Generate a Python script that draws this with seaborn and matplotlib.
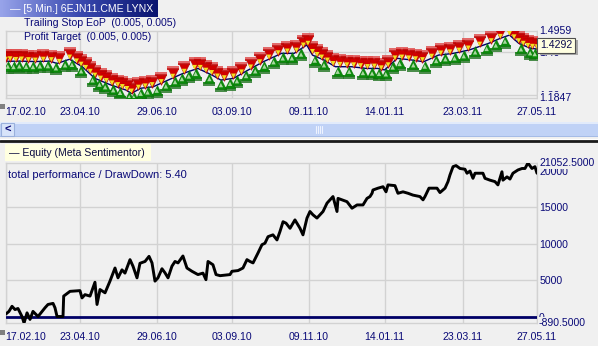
import numpy as np
import pandas as pd
import seaborn as sns
import matplotlib
matplotlib.use("Agg")
import matplotlib.pyplot as plt
from matplotlib.transforms import offset_copy, blended_transform_factory
from matplotlib.patches import Rectangle
from matplotlib.colors import LinearSegmentedColormap

# ---------------- data ----------------
start_date = "2010-02-17"
end_date = "2011-05-27"
tick_dates = ["2010-02-17", "2010-04-23", "2010-06-29", "2010-09-03",
              "2010-11-09", "2011-01-14", "2011-03-23", "2011-05-27"]
tick_labels = ["17.02.10", "23.04.10", "29.06.10", "03.09.10",
               "09.11.10", "14.01.11", "23.03.11", "27.05.11"]

# price path (days since start, price)
price_days = [0, 12.7, 25.8, 38.8, 45, 56, 67, 78, 92, 105, 110, 118, 129, 142,
              155, 168, 180, 188, 199, 212, 225, 241, 252, 263, 268, 278, 288,
              302, 315, 325, 331, 342, 355, 365, 378, 391, 405, 422, 432, 440,
              448, 458, 464]
price_vals = [1.355, 1.356, 1.354, 1.356, 1.345, 1.365, 1.330, 1.276, 1.245,
              1.222, 1.206, 1.230, 1.237, 1.268, 1.299, 1.322, 1.292, 1.268,
              1.276, 1.315, 1.353, 1.392, 1.392, 1.431, 1.384, 1.361, 1.330,
              1.330, 1.322, 1.322, 1.315, 1.369, 1.361, 1.353, 1.384, 1.392,
              1.408, 1.439, 1.462, 1.477, 1.439, 1.416, 1.412]

sell_days = [0, 4, 9, 14, 20, 26, 33, 40, 47, 56, 62, 66, 70, 74, 78, 83, 88, 93,
             98, 102, 106, 110, 116, 122, 128, 136, 146, 156, 165, 170, 175, 180,
             185, 191, 199, 206, 214, 222, 230, 238, 246, 254, 260, 264, 268, 272,
             276, 281, 286, 292, 298, 304, 310, 316, 322, 328, 334, 340, 346, 352,
             358, 364, 372, 380, 388, 396, 404, 414, 424, 432, 440, 444, 448, 452,
             456, 460, 464]
sell_prices = [1.356, 1.358, 1.355, 1.357, 1.354, 1.352, 1.356, 1.354, 1.346,
               1.366, 1.348, 1.333, 1.318, 1.300, 1.282, 1.268, 1.257, 1.246,
               1.238, 1.229, 1.220, 1.208, 1.226, 1.232, 1.238, 1.252, 1.277,
               1.300, 1.318, 1.318, 1.305, 1.294, 1.278, 1.270, 1.278, 1.297,
               1.320, 1.344, 1.366, 1.386, 1.394, 1.398, 1.422, 1.430, 1.392,
               1.378, 1.366, 1.352, 1.336, 1.332, 1.330, 1.330, 1.326, 1.322,
               1.324, 1.316, 1.330, 1.362, 1.366, 1.362, 1.358, 1.354, 1.370,
               1.385, 1.390, 1.398, 1.408, 1.426, 1.442, 1.462, 1.476, 1.460,
               1.442, 1.430, 1.420, 1.416, 1.414]

buy_days = [2, 7, 12, 18, 24, 30, 37, 44, 52, 58, 66, 76, 82, 87, 94, 100, 108,
            112, 118, 124, 132, 140, 148, 154, 160, 166, 178, 188, 196, 202, 210,
            218, 226, 234, 242, 250, 258, 270, 278, 290, 300, 312, 320, 326, 332,
            338, 344, 356, 366, 376, 384, 392, 400, 410, 420, 428, 436, 450, 458,
            462]
buy_prices = [1.354, 1.352, 1.355, 1.353, 1.352, 1.355, 1.356, 1.346, 1.360,
              1.362, 1.332, 1.290, 1.270, 1.258, 1.244, 1.232, 1.212, 1.210,
              1.228, 1.234, 1.242, 1.262, 1.282, 1.296, 1.308, 1.320, 1.296,
              1.268, 1.274, 1.286, 1.310, 1.332, 1.354, 1.374, 1.392, 1.392,
              1.410, 1.382, 1.360, 1.330, 1.330, 1.324, 1.322, 1.320, 1.318,
              1.350, 1.366, 1.360, 1.354, 1.380, 1.388, 1.392, 1.402, 1.420,
              1.436, 1.452, 1.470, 1.434, 1.416, 1.412]

equity_days = [0, 3, 5.7, 8.3, 10.9, 14.4, 16.2, 18.8, 21.4, 24, 28.4, 31.9, 34.5,
               37.1, 41.5, 43.2, 45, 50.2, 50.8, 56.3, 65, 66.8, 69.4, 73.8, 78.1,
               79.9, 82.5, 86.9, 91.2, 95.6, 98.2, 101.7, 104.3, 108.7, 111.3,
               114.8, 117.4, 121.8, 125.3, 127.9, 130.5, 133.1, 136.6, 139.2,
               141.9, 145.3, 148, 150.6, 154.9, 158.4, 162.8, 168, 172.4, 175,
               176.8, 181.1, 183.8, 187.3, 196, 197.7, 203, 207.3, 210.8, 213.4,
               216.1, 220.4, 223.9, 226.5, 229.2, 233.5, 237, 239.6, 242.3, 244.9,
               248.4, 252.7, 257.1, 259.7, 263.2, 265.8, 268.4, 271.9, 277.2,
               280.7, 285.9, 289.4, 290.3, 298.1, 302.5, 306.9, 312.1, 315.6,
               318.2, 320, 320.8, 325.2, 329.6, 332.2, 333.9, 340, 342.6, 347,
               351.4, 355.7, 361.8, 364.5, 366.2, 369.7, 376.7, 379.3, 383.7,
               386.3, 388, 390.7, 393.3, 396.8, 401.1, 402.9, 405.5, 408.1, 409.9,
               416.8, 418.6, 422.9, 427.3, 429.9, 433.4, 434.3, 437.8, 440.4, 443,
               447.4, 450.9, 453.5, 456.1, 459.6, 462.2, 464]
equity_vals = [300, 700, 1400, 950, 1100, 0, -890, 500, -400, 700, 0, 700, 1200,
               1650, 1800, 1200, 0, 0, 2800, 3450, 3550, 2550, 3000, 2800, 4700,
               1650, 3700, 3250, 4850, 6650, 5300, 6400, 5950, 7800, 6900, 5300,
               7300, 7550, 8250, 7350, 4850, 5300, 6550, 6000, 5300, 6900, 7550,
               7350, 8300, 6650, 6200, 5750, 5950, 5050, 7550, 7100, 5750, 5600,
               5750, 6200, 6300, 6650, 7800, 7550, 7350, 8700, 9850, 10050, 10950,
               11200, 10500, 11650, 13000, 12800, 12100, 13250, 12100, 11200,
               13500, 14400, 13950, 13500, 14400, 15550, 16450, 14400, 16200,
               15750, 14850, 15300, 15300, 16200, 16450, 16900, 17350, 17600,
               17800, 17100, 18050, 17950, 16900, 17100, 16900, 16650, 16450,
               16000, 16450, 17600, 17600, 17000, 17600, 18500, 19400, 20550,
               20700, 20300, 20200, 19650, 19950, 18950, 19650, 19650, 18950,
               18700, 18500, 18050, 19850, 18700, 19150, 18850, 19650, 20100,
               20300, 20300, 21050, 20300, 20550, 19650]

price_max, price_min, price_last = 1.4959, 1.1847, 1.4292
price_ticks = [1.20, 1.40]
eq_max, eq_min = 21052.5, -890.5
eq_ticks = [0, 5000, 10000, 15000, 20000]
eq_grid = [5000, 10000, 15000]
perf_dd = 5.40

# ---------------- style ----------------
sns.set_theme(style="white")
plt.rcParams["font.family"] = ["Liberation Sans", "DejaVu Sans"]
BG = "#F0F0F0"
GRID = "#D2D2D2"
NAVY = "#0a0a78"
FS = 7.6

W, H = 598, 346
fig = plt.figure(figsize=(W / 100, H / 100), dpi=100, facecolor=BG)


def rect(x0, y0, x1, y1):
    return [x0 / W, 1 - y1 / H, (x1 - x0) / W, (y1 - y0) / H]


t0 = pd.Timestamp(start_date)


def to_dt(days):
    return pd.Series(t0 + pd.to_timedelta(np.asarray(days, float), unit="D"))


xlim = (pd.Timestamp(start_date), pd.Timestamp(end_date))
tdates = pd.to_datetime(tick_dates)


def style_axes(ax, pad):
    ax.set_facecolor(BG)
    for s in ax.spines.values():
        s.set_color(GRID)
        s.set_linewidth(1)
    ax.yaxis.tick_right()
    ax.tick_params(axis="both", length=0, colors=NAVY, labelsize=FS)
    ax.tick_params(axis="x", pad=pad)
    ax.tick_params(axis="y", pad=1.5)
    ax.set_xticks(tdates)
    ax.set_xticklabels(tick_labels)
    ax.get_xticklabels()[0].set_ha("left")
    ax.set_xlabel("")
    ax.set_ylabel("")
    for d in tdates:
        ax.axvline(d, color=GRID, lw=1, zorder=0)


def edge_label(ax, val, text):
    tr = offset_copy(blended_transform_factory(ax.transAxes, ax.transData),
                     fig=fig, x=2, y=0, units="dots")
    ax.text(1, val, text, transform=tr, ha="left", va="center", fontsize=FS,
            color=NAVY, clip_on=False, zorder=6,
            bbox=dict(boxstyle="square,pad=0.05", fc=BG, ec="none"))


# ---------------- price panel ----------------
ax_p = fig.add_axes(rect(5.5, 31, 537, 98))
sns.lineplot(x=to_dt(price_days), y=price_vals, ax=ax_p, color="#000066", lw=1,
             sort=False, estimator=None, zorder=2)

up = lambda dy: offset_copy(ax_p.transData, fig=fig, x=0, y=dy, units="dots")
sd, bd = to_dt(sell_days), to_dt(buy_days)
# sell markers (red, above)
for dy, col in [(11, "#E05050"), (9, "#C00000")]:
    ax_p.plot(sd, sell_prices, ls="none", marker="_", ms=8, mew=1.2, color=col,
              transform=up(dy), zorder=3)
sns.scatterplot(x=sd, y=sell_prices, ax=ax_p, marker="v", s=50, color="#D00000",
                edgecolor="#B00000", linewidth=0.3, transform=up(4), zorder=4,
                legend=False)
sns.scatterplot(x=sd, y=sell_prices, ax=ax_p, marker="v", s=12, color="#F0E020",
                edgecolor="none", linewidth=0, transform=up(2), zorder=4,
                legend=False)
# buy markers (green, below)
for dy, col in [(-11, "#2A7A2A"), (-9, "#0A7A0A")]:
    ax_p.plot(bd, buy_prices, ls="none", marker="_", ms=8, mew=1.2, color=col,
              transform=up(dy), zorder=3)
sns.scatterplot(x=bd, y=buy_prices, ax=ax_p, marker="^", s=50, color="#0A8A0A",
                edgecolor="#067006", linewidth=0.3, transform=up(-4), zorder=5,
                legend=False)
sns.scatterplot(x=bd, y=buy_prices, ax=ax_p, marker="^", s=10, color="#A8D8A0",
                edgecolor="none", linewidth=0, transform=up(-5), zorder=5,
                legend=False)

ax_p.set_xlim(*xlim)
ax_p.set_ylim(price_min, price_max)
style_axes(ax_p, pad=6.2)
ax_p.set_yticks(price_ticks)
ax_p.set_yticklabels([f"{v:.2f}" for v in price_ticks])
for v in price_ticks:
    ax_p.axhline(v, color=GRID, lw=1, zorder=0)
edge_label(ax_p, price_max, f"{price_max:.4f}")
edge_label(ax_p, price_min, f"{price_min:.4f}")
# current price box with shadow
trs = offset_copy(blended_transform_factory(ax_p.transAxes, ax_p.transData),
                  fig=fig, x=6, y=-2, units="dots")
ax_p.text(1, price_last, f"{price_last:.4f}", transform=trs, ha="left",
          va="center", fontsize=FS, color="#A8A8A8", clip_on=False, zorder=6,
          bbox=dict(boxstyle="square,pad=0.25", fc="#A8A8A8", ec="none"))
trb = offset_copy(blended_transform_factory(ax_p.transAxes, ax_p.transData),
                  fig=fig, x=3, y=0, units="dots")
ax_p.text(1, price_last, f"{price_last:.4f}", transform=trb, ha="left",
          va="center", fontsize=FS, color="#0a0a50", clip_on=False, zorder=7,
          bbox=dict(boxstyle="square,pad=0.25", fc="#FFFFE1", ec="#505050",
                    lw=0.8))

# ---------------- equity panel ----------------
ax_e = fig.add_axes(rect(5.5, 163, 537, 323))
for v in eq_grid:
    ax_e.axhline(v, color=GRID, lw=1, zorder=0)
ax_e.axhline(0, color="#000066", lw=2, zorder=3)
sns.lineplot(x=to_dt(equity_days), y=equity_vals, ax=ax_e, color="black",
             lw=2.1, sort=False, estimator=None, zorder=4)
ax_e.set_xlim(*xlim)
ax_e.set_ylim(eq_min, eq_max)
style_axes(ax_e, pad=6.8)
ax_e.set_yticks(eq_ticks)
ax_e.set_yticklabels([str(v) for v in eq_ticks])
edge_label(ax_e, eq_max, f"{eq_max:.4f}")
edge_label(ax_e, eq_min, f"{eq_min:.4f}")

# ---------------- decorations (pixel coordinates) ----------------
deco = fig.add_axes([0, 0, 1, 1], zorder=10)
deco.patch.set_visible(False)
deco.axis("off")

grad = np.linspace(0, 1, 200).reshape(1, -1)
cmap = LinearSegmentedColormap.from_list("hdr", ["#98A4EA", "#3A4AB0", "#0A1470"])
deco.imshow(grad, extent=[0, 158, 17, 0], aspect="auto", cmap=cmap, zorder=1)
deco.text(10, 8.5, "— [5 Min.] 6EJN11.CME LYNX", color="white", fontsize=FS,
          va="center", ha="left", zorder=2)
deco.text(24, 23, "Trailing Stop EoP  (0.005, 0.005)", color=NAVY, fontsize=FS,
          va="center", ha="left")
deco.text(24, 37, "Profit Target  (0.005, 0.005)", color=NAVY, fontsize=FS,
          va="center", ha="left")

# small marker icons
deco.add_patch(Rectangle((0, 103.5), 5, 5, fc="#808080", ec="none"))
deco.add_patch(Rectangle((0, 329.5), 5, 5, fc="#808080", ec="none"))

# scrollbar
deco.add_patch(Rectangle((0, 122), W, 15, fc="#C0D2F6", ec="none"))
deco.add_patch(Rectangle((0, 122), W, 2, fc="#E2EBFB", ec="none"))
deco.add_patch(Rectangle((0, 136), W, 1, fc="#A6BCE6", ec="none"))
deco.add_patch(Rectangle((1, 123), 13, 13, fc="#D8E4FA", ec="#9AB0DC", lw=0.8))
deco.text(7.5, 129.5, "<", color=NAVY, fontsize=8, fontweight="bold",
          ha="center", va="center")
for gx in [315.5, 317.5, 319.5, 321.5]:
    deco.plot([gx, gx], [126, 133], color="#EEF3FF", lw=0.8)

# separator
deco.plot([0, W], [139, 139], color="white", lw=1)
deco.plot([0, W], [141, 141], color="#1A1A1A", lw=2)

# equity legend
deco.add_patch(Rectangle((5, 144), 146, 17, fc="#FFFFE0", ec="none"))
deco.text(9, 152.5, "— Equity (Meta Sentimentor)", color="#0a0a40", fontsize=FS,
          va="center", ha="left")
deco.text(8, 175, f"total performance / DrawDown: {perf_dd:.2f}", color=NAVY,
          fontsize=8.0, va="center", ha="left")

deco.set_xlim(0, W)
deco.set_ylim(H, 0)

fig.savefig("out.png", dpi=100, facecolor=BG)
